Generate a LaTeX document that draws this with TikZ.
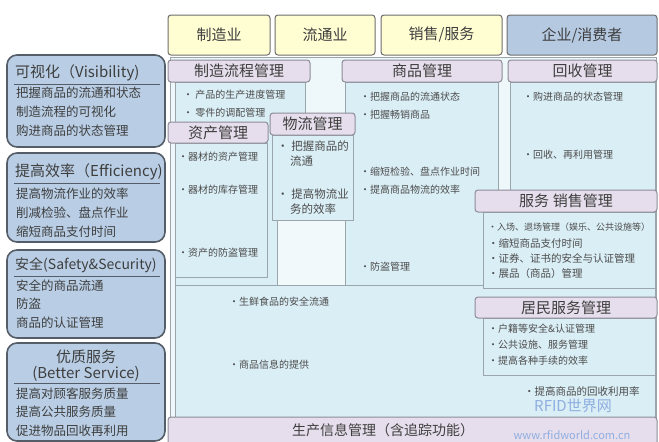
\documentclass[tikz,border=0pt]{standalone}
\usepackage{fontspec}
\setmainfont{Noto Sans CJK SC}
\definecolor{lfill}{HTML}{B9CEE5}
\definecolor{lbord}{HTML}{555E68}
\definecolor{hyel}{HTML}{FFFDD2}
\definecolor{hblue}{HTML}{B5C9E1}
\definecolor{hbord}{HTML}{6E6E6E}
\definecolor{lav}{HTML}{E6DEEC}
\definecolor{tbord}{HTML}{8E8C98}
\definecolor{cfill}{HTML}{DAEEF5}
\definecolor{cbord}{HTML}{9AA6AC}
\definecolor{bgfill}{HTML}{EEF7FA}
\definecolor{stripfill}{HTML}{F2F9FB}
\definecolor{txt}{HTML}{3E3E3E}
\definecolor{itxt}{HTML}{4C4C4C}
\definecolor{wm}{HTML}{8FAEE0}
\newcommand{\fsz}[1]{\fontsize{#1}{#1}\selectfont}
\newcommand{\bx}[7]{\node[#1, anchor=north west, inner sep=0pt, outer sep=0pt, minimum width={(#5)-(#3)}, minimum height={(#6)-(#4)}] (#2) at (#3,#4) {#7};}
\begin{document}
\begin{tikzpicture}[x=1pt,y=-1pt,
  leftbox/.style={draw=lbord, line width=1.6pt, fill=lfill, rounded corners=10pt},
  hdr/.style={draw=hbord, line width=1pt, fill=hyel, rounded corners=3pt, text=txt, font=\fsz{15}},
  hdrb/.style={hdr, fill=hblue},
  tbar/.style={draw=tbord, line width=1pt, fill=lav, rounded corners=3pt, text=txt, font=\fsz{15}},
  cbox/.style={draw=cbord, line width=0.8pt, fill=cfill},
  strip/.style={draw=cbord, line width=0.8pt, fill=stripfill},
  bgbox/.style={draw=cbord, line width=1pt, fill=bgfill},
  ltitle/.style={anchor=west, inner sep=0pt, text=txt, font=\fsz{15}},
  lline/.style={anchor=west, inner sep=0pt, text=txt, font=\fsz{12.5}},
  uline/.style={draw=lbord, line width=1pt},
  item/.style={anchor=west, inner sep=0pt, text=itxt, font=\fsz{10}},
  itemb/.style={item, font=\fsz{11.5}},
  items/.style={item, font=\fsz{9}},
  wmark/.style={inner sep=0pt, text=wm, font=\fsz{15}}
]
\useasboundingbox[fill=white] (0,0) rectangle (659,442);

% ---------- left panels ----------
\bx{leftbox}{L1}{7}{55}{165}{147}{}
\node[ltitle] (L1t) at (15,73) {可视化（Visibility)};
\draw[uline] (14,84) -- (160,84);
\node[lline] (L1a) at (16,93) {把握商品的流通和状态};
\node[lline] (L1b) at (16,112) {制造流程的可视化};
\node[lline] (L1c) at (16,131) {购进商品的状态管理};

\bx{leftbox}{L2}{7}{153}{165}{242}{}
\node[ltitle] (L2t) at (15,172) {提高效率（Efficiency)};
\draw[uline] (14,183) -- (160,183);
\node[lline] (L2a) at (16,194) {提高物流作业的效率};
\node[lline] (L2b) at (16,213) {削减检验、盘点作业};
\node[lline] (L2c) at (16,232) {缩短商品支付时间};

\bx{leftbox}{L3}{7}{250}{165}{338}{}
\node[ltitle, font=\fsz{14}] (L3t) at (15,265) {安全(Safety\&Security)};
\draw[uline] (14,276) -- (160,276);
\node[lline] (L3a) at (16,286) {安全的商品流通};
\node[lline] (L3b) at (16,304) {防盗};
\node[lline] (L3c) at (16,323) {商品的认证管理};

\bx{leftbox}{L4}{7}{343}{165}{441}{}
\node[ltitle, anchor=center] (L4t) at (86,357) {优质服务};
\node[ltitle, anchor=center] (L4u) at (86,374) {(Better Service)};
\draw[uline] (14,383) -- (160,383);
\node[lline] (L4a) at (16,394) {提高对顾客服务质量};
\node[lline] (L4b) at (16,412) {提高公共服务质量};
\node[lline] (L4c) at (16,431) {促进物品回收再利用};

% ---------- background ----------
\bx{bgbox}{BG}{170}{57}{656}{420}{}

% ---------- headers ----------
\bx{hdr}{H1}{168}{15}{270}{55}{制造业}
\bx{hdr}{H2}{275}{15}{375}{55}{流通业}
\bx{hdr}{H3}{381}{15}{502}{55}{销售/服务}
\bx{hdrb}{H4}{507}{15}{657}{55}{企业/消费者}

% ---------- column contents ----------
\bx{cbox}{C1}{175}{82}{305}{285}{}
\bx{strip}{C2}{277}{135}{347}{285}{}
\bx{cbox}{C3}{345}{82}{498}{285}{}
\bx{cbox}{C4}{510}{82}{655}{417}{}
\bx{cbox}{C5}{175}{285}{655}{417}{}

\bx{tbar}{T1}{168}{60}{310}{82}{制造流程管理}
\bx{tbar}{T3}{342}{60}{502}{82}{商品管理}
\bx{tbar}{T4}{508}{60}{657}{82}{回收管理}

\node[item] (i11) at (183,95) {• 产品的生产进度管理};
\node[item] (i12) at (183,113) {• 零件的调配管理};

\bx{cbox}{C6}{175}{143}{267}{277}{}
\bx{tbar}{T6}{168}{122}{268}{143}{资产管理}
\node[item] (i61) at (178,157) {•器材的资产管理};
\node[item] (i62) at (178,190) {•器材的库存管理};
\node[item] (i63) at (178,253) {•资产的防盗管理};

\bx{cbox}{C7}{272}{135}{353}{220}{}
\bx{tbar}{T7}{270}{113}{355}{135}{物流管理}
\node[itemb] (i71) at (277,146) {• 把握商品的};
\node[itemb] (i72) at (290,161) {流通};
\node[itemb] (i73) at (277,194) {• 提高物流业};
\node[itemb] (i74) at (290,209) {务的效率};

\node[item] (i31) at (360,97) {•把握商品的流通状态};
\node[item] (i32) at (360,115) {•把握畅销商品};
\node[item] (i33) at (360,172) {•缩短检验、盘点作业时间};
\node[item] (i34) at (360,190) {•提高商品物流的效率};
\node[item] (i35) at (360,267) {•防盗管理};

\node[item] (i41) at (523,97) {•购进商品的状态管理};
\node[item] (i42) at (523,155) {•回收、再利用管理};

\bx{cbox}{C8}{483}{212}{655}{288}{}
\bx{tbar}{T8}{475}{190}{657}{212}{服务\hspace{4pt}销售管理}
\node[items] (i81) at (488,227) {•入场、退场管理（娱乐、公共设施等）};
\node[item, font=\fsz{10.5}] (i82) at (488,243) {•缩短商品支付时间};
\node[item, font=\fsz{10.5}] (i83) at (488,258) {•证券、证书的安全与认证管理};
\node[item, font=\fsz{10.5}] (i84) at (488,274) {•展品（商品）管理};

\bx{cbox}{C9}{483}{318}{655}{375}{}
\bx{tbar}{T9}{475}{297}{657}{318}{居民服务管理}
\node[item] (i91) at (488,329) {•户籍等安全\&认证管理};
\node[item] (i92) at (488,345) {•公共设施、服务管理};
\node[item] (i93) at (488,361) {•提高各种手续的效率};

\node[item] (i51) at (229,302) {•生鲜食品的安全流通};
\node[item] (i52) at (229,365) {•商品信息的提供};
\node[item, font=\fsz{10.5}] (i53) at (524,391) {•提高商品的回收利用率};

\bx{tbar}{TB}{168}{417}{657}{445}{}
\node[inner sep=0pt, text=txt, font=\fsz{14}] (TBt) at (383,430) {生产信息管理（含追踪功能）};

% ---------- watermark ----------
\node[wmark] (W1) at (573,406) {RFID世界网};
\node[wmark, font=\fsz{11}] (W2) at (572,435) {www.rfidworld.com.cn};
\end{tikzpicture}
\end{document}
